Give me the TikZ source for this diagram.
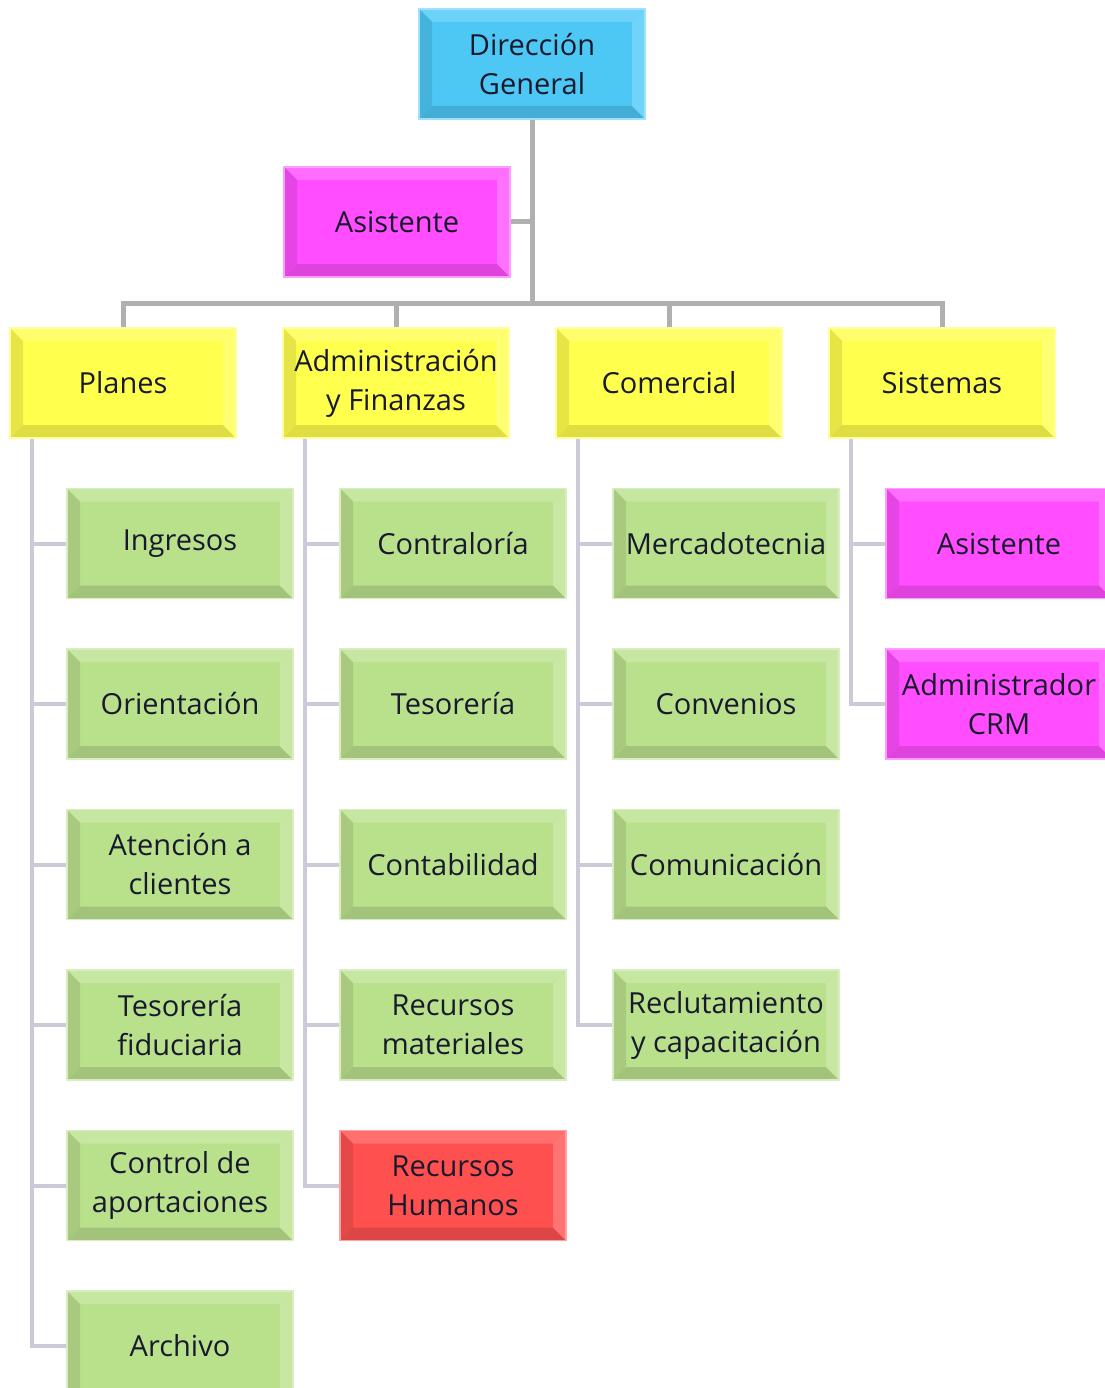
\documentclass[tikz,border=0pt]{standalone}
\usepackage{fontspec}
\setmainfont{Open Sans}
\usetikzlibrary{positioning}

\definecolor{dgblue}{RGB}{77,200,245}
\definecolor{asmag}{RGB}{255,77,255}
\definecolor{areayel}{RGB}{255,255,77}
\definecolor{deptgreen}{RGB}{185,225,140}
\definecolor{rhred}{RGB}{255,80,80}
\definecolor{trunkgray}{RGB}{176,176,176}
\definecolor{twiggray}{RGB}{202,202,216}
\definecolor{boxtext}{RGB}{25,25,45}

% bevelled faces of a box
\newcommand{\bevel}[1]{%
  \coordinate (bnw) at (path picture bounding box.north west);
  \coordinate (bne) at (path picture bounding box.north east);
  \coordinate (bsw) at (path picture bounding box.south west);
  \coordinate (bse) at (path picture bounding box.south east);
  \fill[#1!82!white] (bnw) -- (bne) -- ([shift={(-13pt,-13pt)}]bne) -- ([shift={(13pt,-13pt)}]bnw) -- cycle;
  \fill[#1!90!black] (bnw) -- ([shift={(13pt,-13pt)}]bnw) -- ([shift={(13pt,13pt)}]bsw) -- (bsw) -- cycle;
  \fill[#1!87!black] (bsw) -- ([shift={(13pt,13pt)}]bsw) -- ([shift={(-13pt,13pt)}]bse) -- (bse) -- cycle;
  \fill[#1!80!white] (bse) -- ([shift={(-13pt,13pt)}]bse) -- ([shift={(-13pt,-13pt)}]bne) -- (bne) -- cycle;
}

\begin{document}
\begin{tikzpicture}[x=1pt,y=-1pt,node distance=49pt and 45.5pt,
    box/.style={rectangle,minimum width=226pt,minimum height=110pt,inner sep=2pt,
      fill=#1,draw=#1!55!white,line width=1.5pt,path picture={\bevel{#1}},
      align=center,text=boxtext,font=\fontsize{29}{39}\selectfont},
    trunk/.style={draw=trunkgray,line width=5pt},
    twig/.style={draw=twiggray,line width=4pt}]

  \fill[white] (0,0) rectangle (1104,1388);
  \useasboundingbox (0,0) rectangle (1104,1388);

  \node[box=dgblue] (direccion) at (532,64) {Dirección\\General};
  \node[box=asmag] (asistente) at (397,222) {Asistente};

  \node[box=areayel] (planes) at (123,383) {Planes};
  \node[box=areayel] (admin) [right=of planes] {Administración\\y Finanzas};
  \node[box=areayel] (comercial) [right=of admin] {Comercial};
  \node[box=areayel] (sistemas) [right=of comercial] {Sistemas};

  % Planes
  \node[box=deptgreen] (ingresos) [below=of planes,xshift=57pt] {Ingresos};
  \node[box=deptgreen] (orientacion) [below=of ingresos] {Orientación};
  \node[box=deptgreen] (atencion) [below=of orientacion] {Atención a\\clientes};
  \node[box=deptgreen] (tesofid) [below=of atencion] {Tesorería\\fiduciaria};
  \node[box=deptgreen] (control) [below=of tesofid] {Control de\\aportaciones};
  \node[box=deptgreen] (archivo) [below=of control] {Archivo};

  % Administracion y Finanzas
  \node[box=deptgreen] (contraloria) [below=of admin,xshift=57pt] {Contraloría};
  \node[box=deptgreen] (tesoreria) [below=of contraloria] {Tesorería};
  \node[box=deptgreen] (contabilidad) [below=of tesoreria] {Contabilidad};
  \node[box=deptgreen] (recmat) [below=of contabilidad] {Recursos\\materiales};
  \node[box=rhred] (rrhh) [below=of recmat] {Recursos\\Humanos};

  % Comercial
  \node[box=deptgreen] (mercado) [below=of comercial,xshift=57pt] {Mercadotecnia};
  \node[box=deptgreen] (convenios) [below=of mercado] {Convenios};
  \node[box=deptgreen] (comunicacion) [below=of convenios] {Comunicación};
  \node[box=deptgreen] (reclutamiento) [below=of comunicacion] {Reclutamiento\\y capacitación};

  % Sistemas
  \node[box=asmag] (asistsis) [below=of sistemas,xshift=57pt] {Asistente};
  \node[box=asmag] (crm) [below=of asistsis] {Administrador\\CRM};

  \coordinate (bus) at (532,303);
  \draw[trunk] (direccion.south) -- (bus);
  \draw[trunk] (asistente.east) -- (asistente.east -| bus);
  \draw[trunk] (planes.north) |- (sistemas.north |- bus) -- (sistemas.north);
  \foreach \a in {admin,comercial}
    \draw[trunk] (\a.north) -- (\a.north |- bus);

  \foreach \p/\l/\k in {planes/archivo/{ingresos,orientacion,atencion,tesofid,control},
                        admin/rrhh/{contraloria,tesoreria,contabilidad,recmat},
                        comercial/reclutamiento/{mercado,convenios,comunicacion},
                        sistemas/crm/{asistsis}} {
    \draw[twig] ([xshift=23pt]\p.south west) |- (\l.west);
    \foreach \c in \k
      \draw[twig] (\c.west) -- ++(-34pt,0);
  }
\end{tikzpicture}
\end{document}
